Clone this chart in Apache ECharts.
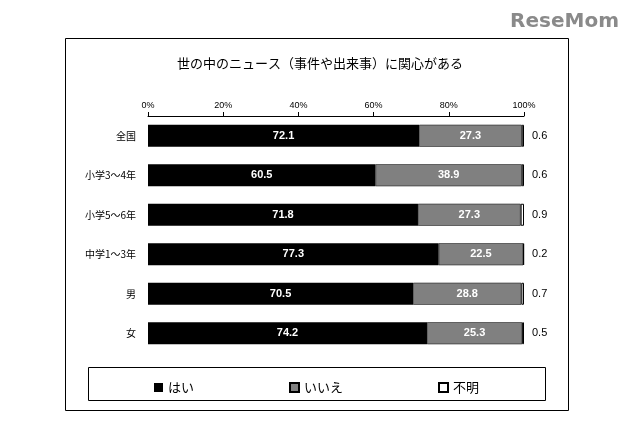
<!DOCTYPE html><html><head><meta charset="utf-8"><script src="https://cdn.jsdelivr.net/npm/echarts@6/dist/echarts.min.js"></script>
<style>html,body{margin:0;background:#fff}#c{width:633px;height:422px}</style></head><body><div id="c"></div><script>
const categories=['全国','小学3～4年','小学5～6年','中学1～3年','男','女'];
const yes=[72.1,60.5,71.8,77.3,70.5,74.2];
const no=[27.3,38.9,27.3,22.5,28.8,25.3];
const unknown=[0.6,0.6,0.9,0.2,0.7,0.5];
const ticks=['0%','20%','40%','60%','80%','100%'];
const F='"Noto Sans CJK JP", sans-serif';
const c=echarts.init(document.getElementById('c'));
c.setOption({animation:false,
title:{text:'世の中のニュース（事件や出来事）に関心がある',left:315,top:52,textAlign:'center',textStyle:{fontFamily:F,fontSize:13,fontWeight:'normal',color:'#000'}},
graphic:[
{type:'rect',shape:{x:65.5,y:38.5,width:503,height:372},style:{fill:'none',stroke:'#000',lineWidth:1},z:-1},
{type:'rect',shape:{x:88.5,y:367.5,width:457,height:33},style:{fill:'none',stroke:'#000',lineWidth:1},z:-1},
{type:'text',right:14,top:12,style:{text:'ReseMom',fontFamily:'"DejaVu Sans"',fontSize:20,fontWeight:'bold',fill:'#8a8a8a'}}
],
legend:{left:'center',top:376,itemGap:95,itemWidth:9,itemHeight:9,icon:'rect',textStyle:{fontFamily:F,fontSize:13,color:'#000'},data:['はい','いいえ','不明']},
grid:{left:148,right:109,top:116,height:237},
xAxis:{type:'value',position:'top',min:0,max:100,interval:20,
 axisLine:{show:true,lineStyle:{color:'#000'}},axisTick:{show:true,length:4,lineStyle:{color:'#000'}},splitLine:{show:false},
 axisLabel:{formatter:v=>ticks[v/20],fontSize:9,color:'#000',margin:6}},
yAxis:{type:'category',inverse:true,data:categories,axisLine:{show:false},axisTick:{show:false},
 axisLabel:{fontFamily:F,fontSize:10,color:'#000',margin:12}},
series:[
{name:'はい',type:'bar',stack:'s',data:yes,barWidth:22,itemStyle:{color:'#000'},label:{show:true,color:'#fff',fontSize:11,fontWeight:'bold',formatter:p=>p.value.toFixed(1)}},
{name:'いいえ',type:'bar',stack:'s',data:no,itemStyle:{color:'#808080',borderColor:'#000',borderWidth:0.5},label:{show:true,color:'#fff',fontSize:11,fontWeight:'bold',formatter:p=>p.value.toFixed(1)}},
{name:'不明',type:'bar',stack:'s',data:unknown,itemStyle:{color:'#fff',borderColor:'#000',borderWidth:1},label:{show:true,position:'right',distance:8,color:'#000',fontSize:11,formatter:p=>p.value.toFixed(1)}}
]});
</script></body></html>
